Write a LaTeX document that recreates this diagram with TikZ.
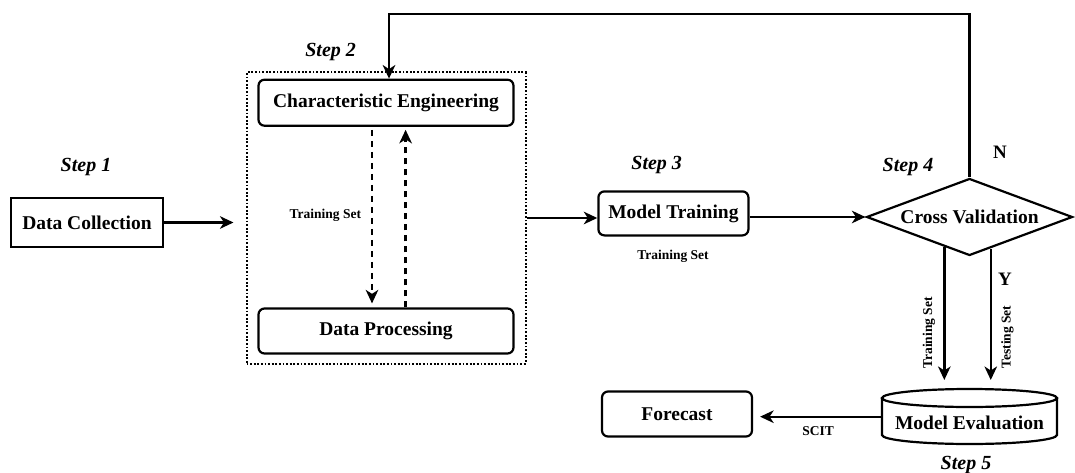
\documentclass[tikz,border=0pt]{standalone}
\usepackage{fontspec}
\setmainfont{Liberation Serif}
\usetikzlibrary{arrows.meta,shapes.geometric,calc}
\begin{document}
\begin{tikzpicture}[x=1pt,y=-1pt,
  bigfont/.style={font=\bfseries\fontsize{19.5}{22}\selectfont},
  stepfont/.style={font=\bfseries\itshape\fontsize{20}{22}\selectfont},
  smallfont/.style={font=\bfseries\fontsize{13.5}{15}\selectfont},
  rbox/.style={draw, line width=2.2pt, rounded corners=6pt, inner sep=0pt, bigfont},
  arr/.style={line width=2.4pt, -{Stealth[length=13.5pt,width=12.5pt,inset=4pt]}},
  darr/.style={arr, dash pattern=on 6pt off 5pt},
  lbl/.style={inner sep=0pt}]
\useasboundingbox (0,0) rectangle (1075,473);

% group box
\node[draw, line width=2pt, dash pattern=on 1.8pt off 1.8pt,
      minimum width=279pt, minimum height=291pt, inner sep=0pt] (grp) at (386,218) {};

% nodes
\node[draw, line width=2.8pt, minimum width=152pt, minimum height=49pt, inner sep=0pt, bigfont] (dc) at (87,222.5) {Data Collection};
\node[rbox, minimum width=255pt, minimum height=46pt] (ce) at (386,102.7) {Characteristic Engineering};
\node[rbox, minimum width=255pt, minimum height=45pt] (dp) at (386,331) {Data Processing};
\node[rbox, minimum width=150pt, minimum height=44pt] (mt) at (673.4,213.4) {Model Training};
\node[diamond, aspect=2.69, draw, line width=2.2pt, minimum width=206pt, minimum height=77pt, inner sep=0pt, bigfont] (cv) at (969.5,217) {Cross Validation};
\node[rbox, minimum width=150pt, minimum height=45pt] (fc) at (677,414) {Forecast};
\node[minimum width=175pt, minimum height=40pt, inner sep=0pt, bigfont] (me) at (969.5,423) {Model Evaluation};

% cylinder outline
\draw[line width=2.2pt] (969.5,398) ellipse [x radius=87.5pt, y radius=9pt];
\draw[line width=2.2pt] (882,398) -- (882,435) arc[start angle=180, end angle=360, x radius=87.5pt, y radius=9pt] -- (1057,398);

% step labels
\node[stepfont, lbl] (s1) at (86,167) {Step 1};
\node[stepfont, lbl] (s2) at (330.6,51.7) {Step 2};
\node[stepfont, lbl] (s3) at (656.7,165) {Step 3};
\node[stepfont, lbl] (s4) at (908,167) {Step 4};
\node[stepfont, lbl] (s5) at (966,465) {Step 5};

% other labels
\node[smallfont, lbl] (tl1) at (325.4,215.7) {Training Set};
\node[smallfont, lbl] (tl2) at (673,256) {Training Set};
\node[smallfont, lbl, rotate=90] (tl3) at (929,333) {Training Set};
\node[smallfont, lbl, rotate=90] (tl4) at (1007.4,337) {Testing Set};
\node[smallfont, lbl] (scit) at (818,431) {SCIT};
\node[font=\bfseries\fontsize{19}{21}\selectfont, lbl] (nl) at (1000,152) {N};
\node[font=\bfseries\fontsize{19}{21}\selectfont, lbl] (yl) at (1005,279) {Y};

% connectors
\draw[arr, shorten >=12pt] (dc.east) -- (grp.west |- dc.east);
\draw[arr] (grp.east) -- (grp.east -| mt.west);
\draw[arr] (mt.east |- cv.west) -- (cv.west);
\draw[darr, shorten <=3pt, shorten >=4pt] ([xshift=-14pt]ce.south) -- ([xshift=-14pt]dp.north);
\draw[darr, shorten >=3pt] ([xshift=19.6pt]dp.north) -- ([xshift=19.6pt]ce.south);
\coordinate (fb) at (389,14);
\draw[arr] (cv.north) |- (fb) -- (fb |- ce.north);
\coordinate (ty) at (0,380);
\draw[arr] (cv.230) -- (cv.230 |- ty);
\draw[arr] (cv.304) -- (cv.304 |- ty);
\coordinate (sc) at (882,416.7);
\draw[arr, shorten >=7pt] (sc) -- (sc -| fc.east);
\end{tikzpicture}
\end{document}
